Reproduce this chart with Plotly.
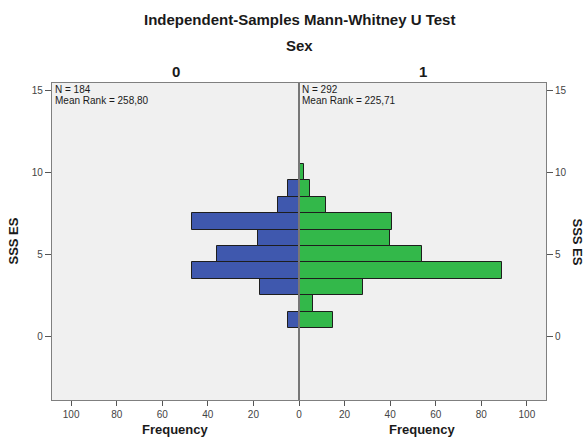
import plotly.graph_objects as go

# SSS ES score bins and frequency per group
scores = [1, 2, 3, 4, 5, 6, 7, 8, 9, 10]
freq_sex0 = [5, 0, 17, 47, 36, 18, 47, 9, 5, 0]
freq_sex1 = [15, 6, 28, 89, 54, 40, 41, 12, 5, 2]

groups = ["0", "1"]
n_labels = ["N = 184", "N = 292"]
mean_rank_labels = ["Mean Rank = 258,80", "Mean Rank = 225,71"]

freq_ticks = [-100, -80, -60, -40, -20, 0, 20, 40, 60, 80, 100]
score_ticks = [0, 5, 10, 15]

W, H = 584, 438
ML, MR, MT, MB = 52, 38, 83, 38
XMAX = 108.4
Y_RANGE = [-3.9, 15.45]
plot_h = H - MT - MB

FONT = "Liberation Sans, Arial, sans-serif"
BLUE = "#3F58AE"
GREEN = "#33B84A"
EDGE = "#1E1E1E"
AXIS = "#7F7F7F"
TEXT = "#1A1A1A"


def py(pixel_y):
    """Convert a page pixel row into paper y coordinates."""
    return 1 - (pixel_y - MT) / plot_h


fig = go.Figure()

fig.add_trace(go.Bar(
    y=scores, x=[-v for v in freq_sex0], orientation="h",
    marker=dict(color=BLUE, line=dict(color=EDGE, width=1)),
    width=1, showlegend=False, hoverinfo="skip",
))
fig.add_trace(go.Bar(
    y=scores, x=freq_sex1, orientation="h",
    marker=dict(color=GREEN, line=dict(color=EDGE, width=1)),
    width=1, showlegend=False, hoverinfo="skip",
))
# invisible trace so the right-hand score axis is drawn
fig.add_trace(go.Scatter(
    x=[0], y=[0], yaxis="y2", mode="markers",
    marker=dict(opacity=0), showlegend=False, hoverinfo="skip",
))

tick_font = dict(size=10, color="#444444")
fig.update_layout(
    width=W, height=H,
    margin=dict(l=ML, r=MR, t=MT, b=MB, pad=0),
    paper_bgcolor="white",
    plot_bgcolor="#F0F0F0",
    barmode="overlay",
    bargap=0,
    font=dict(family=FONT, size=10, color="#333333"),
    xaxis=dict(
        range=[-XMAX, XMAX],
        tickvals=freq_ticks,
        ticktext=[str(abs(v)) for v in freq_ticks],
        ticks="outside", ticklen=5, tickcolor="#555555",
        showline=True, linecolor=AXIS, linewidth=1.2, mirror=True,
        showgrid=False, zeroline=False, fixedrange=True,
        tickfont=tick_font,
    ),
    yaxis=dict(
        range=Y_RANGE,
        tickvals=score_ticks,
        ticks="outside", ticklen=6, tickcolor="#555555",
        showline=True, linecolor=AXIS, linewidth=1.2, mirror=True,
        showgrid=False, zeroline=False, fixedrange=True,
        tickfont=tick_font,
    ),
    yaxis2=dict(
        range=Y_RANGE, overlaying="y", side="right",
        tickvals=score_ticks,
        ticks="outside", ticklen=6, tickcolor="#555555",
        showline=False, showgrid=False, zeroline=False, fixedrange=True,
        tickfont=tick_font,
    ),
)

# centre divider between the two groups
fig.add_shape(type="line", xref="x", yref="paper", x0=0, x1=0, y0=0, y1=1,
              line=dict(color="#777777", width=2), layer="above")


def label(text, x, y, size, xref="paper", **kw):
    return dict(text=text, xref=xref, yref="paper", x=x, y=y,
                xanchor=kw.pop("xanchor", "center"),
                yanchor=kw.pop("yanchor", "middle"),
                showarrow=False, font=dict(size=size, color=TEXT), **kw)


ann = [
    label("<b>Independent-Samples Mann-Whitney U Test</b>", 0.5, py(20), 15),
    label("<b>Sex</b>", 0.5, py(45), 15),
]
for i, g in enumerate(groups):
    side = -1 if i == 0 else 1
    ann.append(label("<b>" + g + "</b>", side * XMAX / 2, py(71), 15, xref="x"))
    ann.append(label("<b>Frequency</b>", side * XMAX / 2, py(429), 13, xref="x"))
    x_left = -XMAX if i == 0 else 0
    ann.append(label(n_labels[i], x_left, py(90), 10, xref="x",
                     xanchor="left", xshift=1))
    ann.append(label(mean_rank_labels[i], x_left, py(100), 10, xref="x",
                     xanchor="left", xshift=1))
ann.append(label("<b>SSS ES</b>", 0, 0.5, 13, xshift=13 - ML, textangle=-90))
ann.append(label("<b>SSS ES</b>", 1, 0.5, 13, xshift=577 - (W - MR), textangle=90))
fig.update_layout(annotations=ann)

fig.write_html("out.html")
